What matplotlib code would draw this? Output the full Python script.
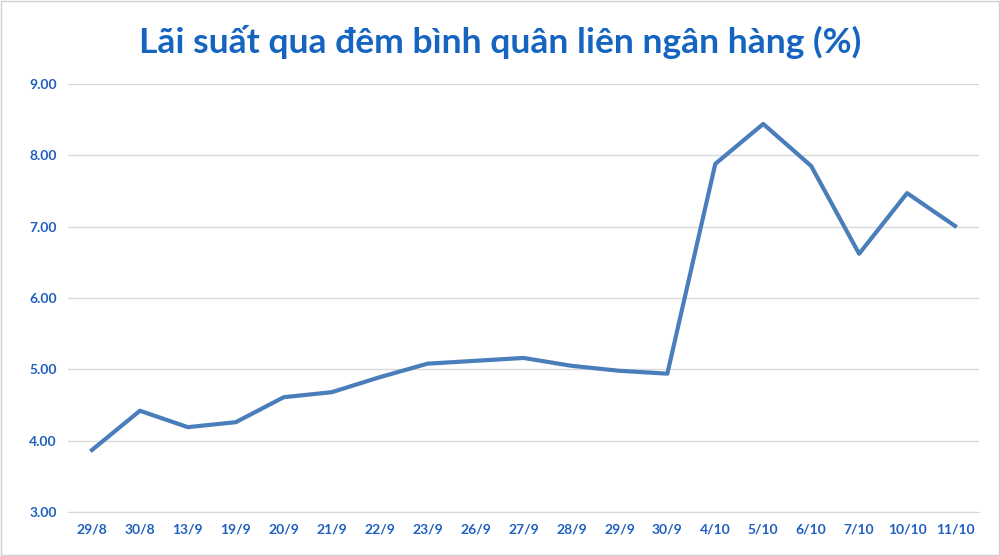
import matplotlib
matplotlib.use("Agg")
import matplotlib.pyplot as plt

dates = ["29/8","30/8","13/9","19/9","20/9","21/9","22/9","23/9","26/9","27/9","28/9","29/9","30/9","4/10","5/10","6/10","7/10","10/10","11/10"]
rates = [3.87,4.42,4.19,4.26,4.61,4.68,4.89,5.08,5.12,5.16,5.05,4.98,4.94,7.88,8.44,7.85,6.62,7.47,7.01]
yticks = [3,4,5,6,7,8,9]

plt.rcParams['font.family'] = ['Lato', 'DejaVu Sans']
fig = plt.figure(figsize=(10, 5.56), dpi=100)
ax = fig.add_axes([0.068, 0.079, 0.911, 0.770])
x = list(range(len(dates)))
ax.plot(x, rates, color="#4a7ebb", lw=3, solid_joinstyle="round")
ax.set_xlim(-0.5, len(dates) - 0.5)
ax.set_ylim(3, 9)
ax.set_yticks(yticks)
ax.set_yticklabels([f"{v:.2f}" for v in yticks])
ax.set_xticks(x)
ax.set_xticklabels(dates)
blue = "#1f5fbf"
for lab in ax.get_xticklabels() + ax.get_yticklabels():
    lab.set_color(blue); lab.set_fontweight("bold"); lab.set_fontsize(10)
ax.tick_params(length=0, pad=8)
ax.grid(axis="y", color="#d9d9d9", lw=1)
ax.set_axisbelow(True)
for s in ["top", "right", "left"]:
    ax.spines[s].set_visible(False)
ax.spines["bottom"].set_color("#d9d9d9")
fig.text(0.5, 0.925, "Lãi suất qua đêm bình quân liên ngân hàng (%)", ha="center", va="center",
         fontsize=25.5, fontweight="bold", color="#1565c0")
fig.patches.append(matplotlib.patches.Rectangle((0.001, 0.001), 0.998, 0.997, transform=fig.transFigure,
                   fill=False, edgecolor="#d0d0d0", lw=1))
fig.savefig("out.png", dpi=100)
